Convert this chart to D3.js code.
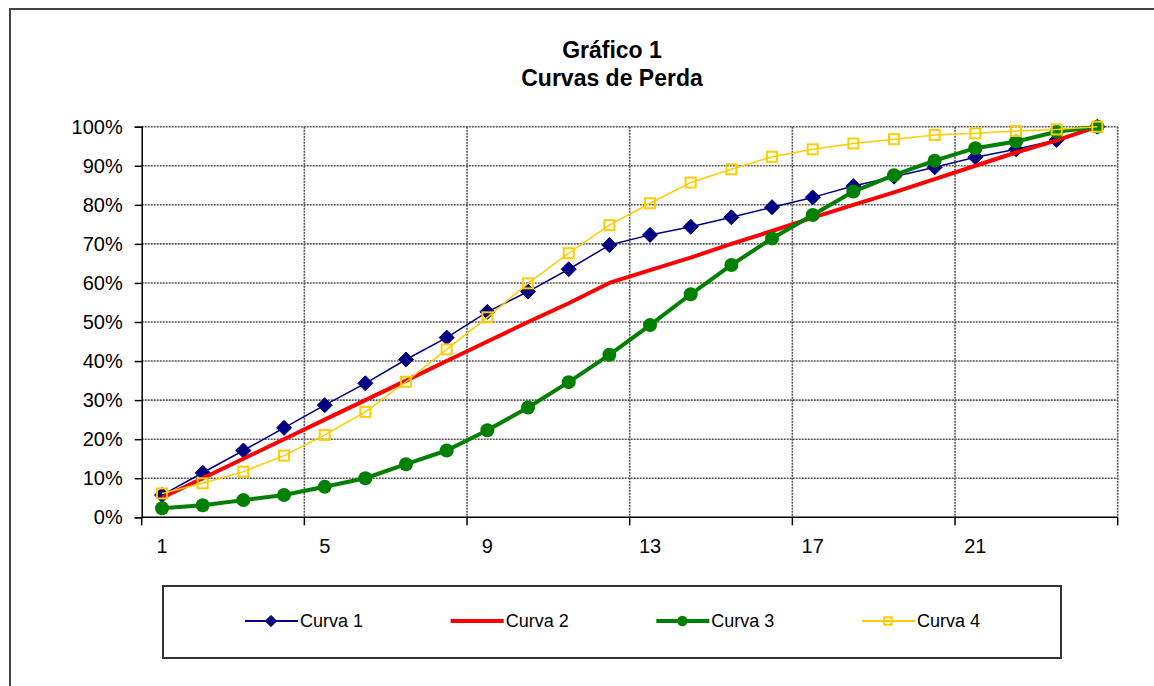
<!DOCTYPE html>
<html>
<head>
<meta charset="utf-8">
<script src="https://cdn.jsdelivr.net/npm/d3@7"></script>
<style>
  body { margin: 0; background: #fff; }
  svg { font-family: "Liberation Sans", Arial, sans-serif; }
</style>
</head>
<body>
<svg id="chart" width="1154" height="686"></svg>
<script>
const periods = d3.range(1, 25);
const xLabels = [1, 5, 9, 13, 17, 21];
const yTicks = [0, 0.1, 0.2, 0.3, 0.4, 0.5, 0.6, 0.7, 0.8, 0.9, 1];

const curva1 = [5.7, 11.4, 17.1, 22.9, 28.7, 34.3, 40.4, 46.0, 52.6, 57.8, 63.5, 69.7,
                72.3, 74.4, 76.8, 79.4, 81.9, 84.8, 87.2, 89.6, 92.2, 94.2, 96.6, 100];
const curva2 = [5, 10, 15, 20, 25, 30, 35, 40, 45, 50, 54.8, 60,
                63.3, 66.5, 70, 73.3, 76.7, 80, 83.2, 86.6, 90, 93.4, 96.5, 100];
const curva3 = [2.3, 3.1, 4.4, 5.7, 7.8, 10.0, 13.6, 17.1, 22.3, 28.1, 34.6, 41.6,
                49.2, 57.1, 64.6, 71.4, 77.4, 83.4, 87.6, 91.3, 94.5, 96.2, 98.7, 100];
const curva4 = [6.1, 8.7, 11.7, 15.8, 21.1, 27.0, 34.7, 43.0, 51.2, 59.9, 67.6, 74.8,
                80.4, 85.7, 89.1, 92.3, 94.2, 95.7, 96.8, 97.9, 98.3, 98.9, 99.3, 100];

const seriesNames = ["Curva 1", "Curva 2", "Curva 3", "Curva 4"];
const seriesValues = [curva1, curva2, curva3, curva4];

const styles = [
  { color: "#000080", width: 1.5, marker: "diamond" },
  { color: "#ff0000", width: 4, marker: null },
  { color: "#008000", width: 4, marker: "circle" },
  { color: "#ffcc00", width: 1.5, marker: "square" }
];

const svg = d3.select("#chart");

// outer chart border
svg.append("rect")
  .attr("x", 10).attr("y", 9)
  .attr("width", 1170).attr("height", 700)
  .attr("fill", "none").attr("stroke", "#444").attr("stroke-width", 2);

// title
const title = svg.append("text")
  .attr("x", 612).attr("text-anchor", "middle")
  .attr("font-weight", "bold").attr("font-size", 23).attr("fill", "#000");
title.append("tspan").attr("x", 612).attr("y", 58).text("Gráfico 1");
title.append("tspan").attr("x", 612).attr("y", 86).text("Curvas de Perda");

const plotLeft = 141.7, plotRight = 1117.7, plotTop = 126.7, plotBottom = 517.3;

const x = d3.scaleBand().domain(periods).range([plotLeft, plotRight]).paddingInner(0).paddingOuter(0);
const y = d3.scaleLinear().domain([0, 1]).range([plotBottom, plotTop]);
const cx = d => x(d) + x.bandwidth() / 2;

// gridlines
const grid = svg.append("g").attr("stroke", "#555").attr("stroke-width", 1.6)
  .attr("stroke-dasharray", "2,1");
grid.selectAll(".h").data(yTicks.slice(1)).enter().append("line")
  .attr("x1", plotLeft).attr("x2", plotRight)
  .attr("y1", d => y(d)).attr("y2", d => y(d));
const vBounds = xLabels.slice(1).map(d => x(d)).concat([plotRight]);
grid.selectAll(".v").data(vBounds).enter().append("line")
  .attr("x1", d => d).attr("x2", d => d)
  .attr("y1", plotTop).attr("y2", plotBottom);

// y axis
const yAxis = svg.append("g")
  .attr("transform", `translate(${plotLeft},0)`)
  .call(d3.axisLeft(y).tickValues(yTicks).tickFormat(d3.format(".0%")).tickSize(7).tickPadding(12));
yAxis.select(".domain").attr("stroke", "#000").attr("stroke-width", 1.5);
yAxis.selectAll(".tick line").attr("stroke", "#000").attr("stroke-width", 1.5);
yAxis.selectAll("text").attr("font-size", 20).attr("fill", "#000")
  .attr("font-family", "Liberation Sans, Arial, sans-serif");

// x axis labels (at band centres) and ticks (at band boundaries)
const xAxis = svg.append("g")
  .attr("transform", `translate(0,${plotBottom})`)
  .call(d3.axisBottom(x).tickValues(xLabels).tickSize(0).tickPadding(22));
xAxis.select(".domain").remove();
xAxis.selectAll("text").attr("font-size", 20).attr("fill", "#000")
  .attr("font-family", "Liberation Sans, Arial, sans-serif");

svg.append("line")
  .attr("x1", plotLeft).attr("x2", plotRight).attr("y1", plotBottom).attr("y2", plotBottom)
  .attr("stroke", "#000").attr("stroke-width", 1.5);
const tickBounds = xLabels.map(d => x(d)).concat([plotRight]);
svg.append("g").selectAll("line").data(tickBounds).enter().append("line")
  .attr("x1", d => d).attr("x2", d => d)
  .attr("y1", plotBottom).attr("y2", plotBottom + 8)
  .attr("stroke", "#000").attr("stroke-width", 1.5);

// markers
function drawMarker(g, type, color, px, py, scale) {
  const s = scale || 1;
  if (type === "diamond") {
    const r = 7.5 * s;
    g.append("path")
      .attr("d", `M${px},${py - r}L${px + r},${py}L${px},${py + r}L${px - r},${py}Z`)
      .attr("fill", color).attr("stroke", color).attr("stroke-width", 1);
  } else if (type === "circle") {
    g.append("circle").attr("cx", px).attr("cy", py).attr("r", 7 * s)
      .attr("fill", color);
  } else if (type === "square") {
    const h = 5 * s;
    g.append("rect").attr("x", px - h).attr("y", py - h)
      .attr("width", 2 * h).attr("height", 2 * h)
      .attr("fill", "none").attr("stroke", color).attr("stroke-width", 2);
  }
}

const line = d3.line().x((d, i) => cx(periods[i])).y(d => y(d / 100));

seriesValues.forEach((vals, k) => {
  const st = styles[k];
  const g = svg.append("g");
  g.append("path").datum(vals)
    .attr("d", line)
    .attr("fill", "none").attr("stroke", st.color).attr("stroke-width", st.width)
    .attr("stroke-linejoin", "round");
  if (st.marker) {
    vals.forEach((v, i) => drawMarker(g, st.marker, st.color, cx(periods[i]), y(v / 100)));
  }
});

// legend
svg.append("rect")
  .attr("x", 163).attr("y", 586).attr("width", 898).attr("height", 72)
  .attr("fill", "#fff").attr("stroke", "#333").attr("stroke-width", 2);

const legendX = d3.scalePoint().domain(seriesNames).range([245, 862]);
seriesNames.forEach((name, k) => {
  const st = styles[k];
  const lg = svg.append("g");
  const lx = legendX(name), ly = 621;
  lg.append("line").attr("x1", lx).attr("x2", lx + 53).attr("y1", ly).attr("y2", ly)
    .attr("stroke", st.color).attr("stroke-width", st.width === 4 ? 4 : 2);
  if (st.marker) drawMarker(lg, st.marker, st.color, lx + 26, ly, 0.75);
  lg.append("text").attr("x", lx + 55).attr("y", ly + 6)
    .attr("font-size", 18).attr("fill", "#000").text(name);
});
</script>
</body>
</html>
